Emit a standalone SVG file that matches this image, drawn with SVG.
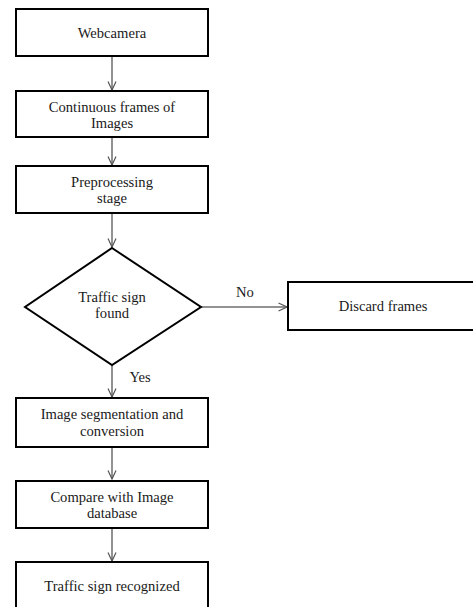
<svg xmlns="http://www.w3.org/2000/svg" width="473" height="607" viewBox="0 0 473 607">
<style>
.box{fill:#fff;stroke:#000;stroke-width:2}
.t{font-family:'Liberation Serif','DejaVu Serif',serif;font-size:14.6px;fill:#1a1a1a;text-anchor:middle}
.c{stroke:#6e6e6e;stroke-width:1.5;fill:none}
</style>
<defs>
<marker id="ah" viewBox="0 0 10 10" refX="9.5" refY="5" markerWidth="10" markerHeight="10" markerUnits="userSpaceOnUse" orient="auto">
<path d="M1,1 L9.5,5 L1,9" fill="none" stroke="#555" stroke-width="1.2"/>
</marker>
</defs>
<rect width="473" height="607" fill="#fff"/>
<g id="connectors">
<line class="c" x1="112" y1="56" x2="112" y2="90" marker-end="url(#ah)"/>
<line class="c" x1="112" y1="137" x2="112" y2="165" marker-end="url(#ah)"/>
<line class="c" x1="112" y1="213" x2="112" y2="247" marker-end="url(#ah)"/>
<line class="c" x1="201" y1="307" x2="287" y2="307" marker-end="url(#ah)"/>
<line class="c" x1="112" y1="365" x2="112" y2="397" marker-end="url(#ah)"/>
<line class="c" x1="112" y1="447" x2="112" y2="479" marker-end="url(#ah)"/>
<line class="c" x1="112" y1="528" x2="112" y2="561" marker-end="url(#ah)"/>
<text class="t" font-family="Liberation Serif" x="245" y="297">No</text>
<text class="t" font-family="Liberation Serif" x="140" y="382">Yes</text>
</g>
<g id="webcamera">
<rect class="box" x="16" y="9" width="192" height="47"/>
<text class="t" font-family="Liberation Serif" x="112" y="38">Webcamera</text>
</g>
<g id="frames">
<rect class="box" x="16" y="91" width="192" height="46"/>
<text class="t" font-family="Liberation Serif" x="112" y="112">Continuous frames of</text>
<text class="t" font-family="Liberation Serif" x="112" y="128">Images</text>
</g>
<g id="preprocessing">
<rect class="box" x="16" y="166" width="192" height="47"/>
<text class="t" font-family="Liberation Serif" x="112" y="187">Preprocessing</text>
<text class="t" font-family="Liberation Serif" x="112" y="203">stage</text>
</g>
<g id="decision">
<polygon class="box" points="112,248 201,307 112,365 25,307"/>
<text class="t" font-family="Liberation Serif" x="112" y="302">Traffic sign</text>
<text class="t" font-family="Liberation Serif" x="112" y="318">found</text>
</g>
<g id="discard">
<rect class="box" x="288" y="282" width="195" height="48"/>
<text class="t" font-family="Liberation Serif" x="383" y="311">Discard frames</text>
</g>
<g id="segmentation">
<rect class="box" x="16" y="398" width="192" height="49"/>
<text class="t" font-family="Liberation Serif" x="112" y="419">Image segmentation  and</text>
<text class="t" font-family="Liberation Serif" x="112" y="436">conversion</text>
</g>
<g id="compare">
<rect class="box" x="16" y="481" width="192" height="47"/>
<text class="t" font-family="Liberation Serif" x="112" y="502">Compare with Image</text>
<text class="t" font-family="Liberation Serif" x="112" y="518">database</text>
</g>
<g id="recognized">
<rect class="box" x="16" y="562" width="192" height="60"/>
<text class="t" font-family="Liberation Serif" x="112" y="591">Traffic sign recognized</text>
</g>
</svg>
